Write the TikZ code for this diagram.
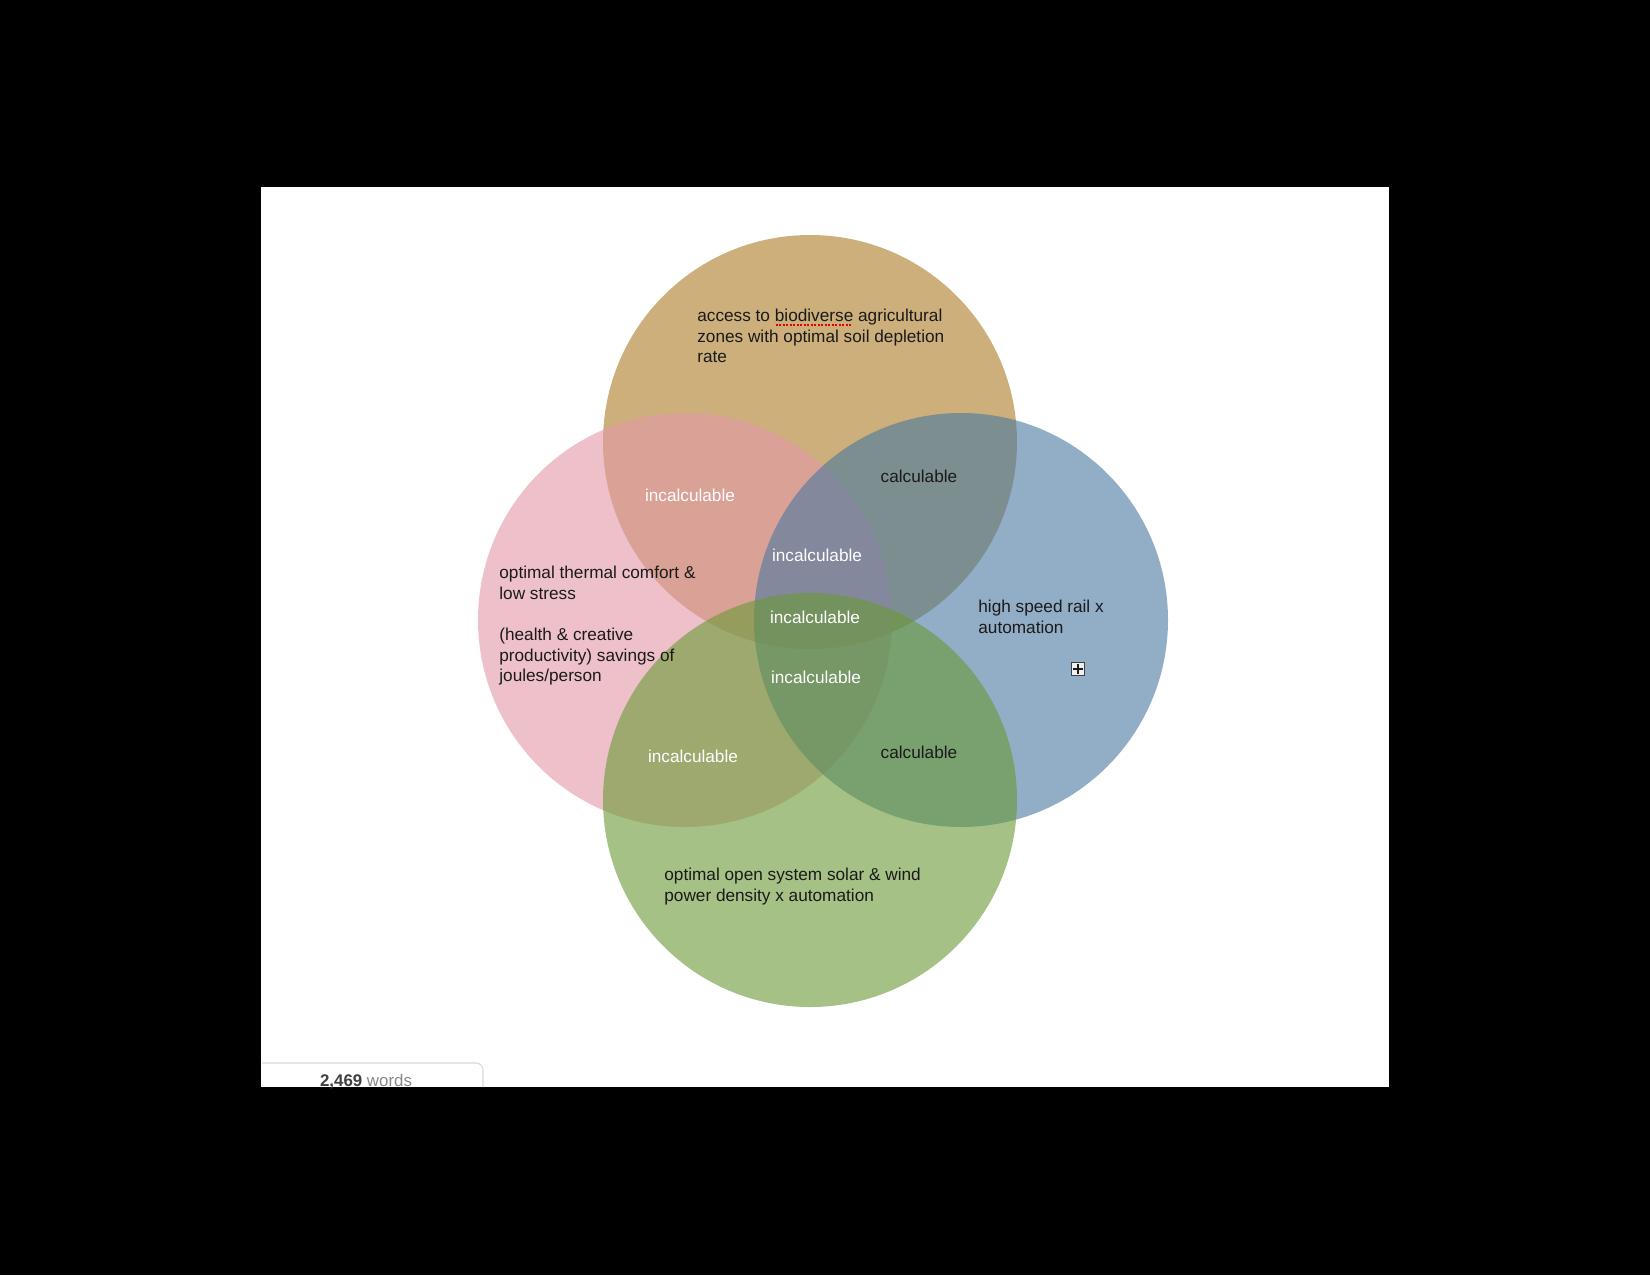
\documentclass[tikz,border=0pt]{standalone}
\usepackage{fontspec}
\setmainfont{Liberation Sans}
\usetikzlibrary{positioning}
\definecolor{soil}{RGB}{172,122,38}
\definecolor{comfort}{RGB}{227,153,168}
\definecolor{rail}{RGB}{73,120,160}
\definecolor{power}{RGB}{105,153,53}
\definecolor{ink}{RGB}{26,26,26}
\definecolor{wordgray}{RGB}{136,136,136}

% red dotted spell-check mark under a word
\newsavebox{\spellbox}
\newcommand{\spellmark}[1]{%
  \sbox{\spellbox}{#1}%
  \rlap{\color{red!90!black}\raisebox{-2.6pt}{\hbox to\wd\spellbox{\leaders\hbox to 2pt{\hss\rule{1.2pt}{1.1pt}\hss}\hfill}}}%
  \usebox{\spellbox}}

\begin{document}
\begin{tikzpicture}[x=0.02cm, y=-0.02cm,
  venn/.style={fill opacity=0.6, draw=none},
  txt/.style={font=\fontsize{9.8}{11.7}\selectfont, text=ink, inner sep=0pt, align=left},
  inc/.style={txt, text=white},
  cal/.style={txt}]

  % Screen and page
  \fill[black] (0,0) rectangle (1650,1275);
  \fill[white] (261,187) rectangle (1389,1087);

  % Circles
  \fill[venn, soil]    (810,442) circle (207);
  \fill[venn, comfort] (685,620) circle (207);
  \fill[venn, rail]    (961,620) circle (207);
  \fill[venn, power]   (810,800) circle (207);

  % Circle texts
  \node[txt, anchor=north west] (soilText) at (697,309)
    {access to \spellmark{biodiverse} agricultural\\zones with optimal soil depletion\\rate};
  \node[txt, anchor=north west] (comfortText) at (499,566)
    {optimal thermal comfort \&\\low stress\\[11.7pt](health \& creative\\productivity) savings of\\joules/person};
  \node[txt, anchor=north west] (railText) at (978,600)
    {high speed rail x\\automation};
  \node[txt, anchor=north west] (powerText) at (664,868)
    {optimal open system solar \& wind\\power density x automation};

  % Overlap labels
  \node[inc] (incTL)  at (690,495) {incalculable};
  \node[cal] (calTR)  at (919,476) {calculable};
  \node[inc] (incMid) at (817,555) {incalculable};
  \node[inc] (incC1)  at (815,617) {incalculable};
  \node[inc] (incC2)  at (816,677) {incalculable};
  \node[inc] (incBL)  at (693,756) {incalculable};
  \node[cal] (calBR)  at (919,752) {calculable};

  % Expand box
  \node[draw=black!75, fill=black!6, line width=0.6pt, minimum size=0.27cm, inner sep=0pt] (more) at (1078,669) {};
  \draw[ink, line width=0.6pt] (1073,669) -- (1083,669) (1078,664) -- (1078,674);

  % Word count tab
  \draw[black!15, line width=0.6pt, rounded corners=4pt] (262,1063) -- (483,1063) -- (483,1087);
  \node[font=\fontsize{9.6}{11}\selectfont, inner sep=0pt, anchor=base] (words) at (366,1086)
    {\textcolor{black!75}{\textbf{2,469}} \textcolor{wordgray}{words}};
\end{tikzpicture}
\end{document}
